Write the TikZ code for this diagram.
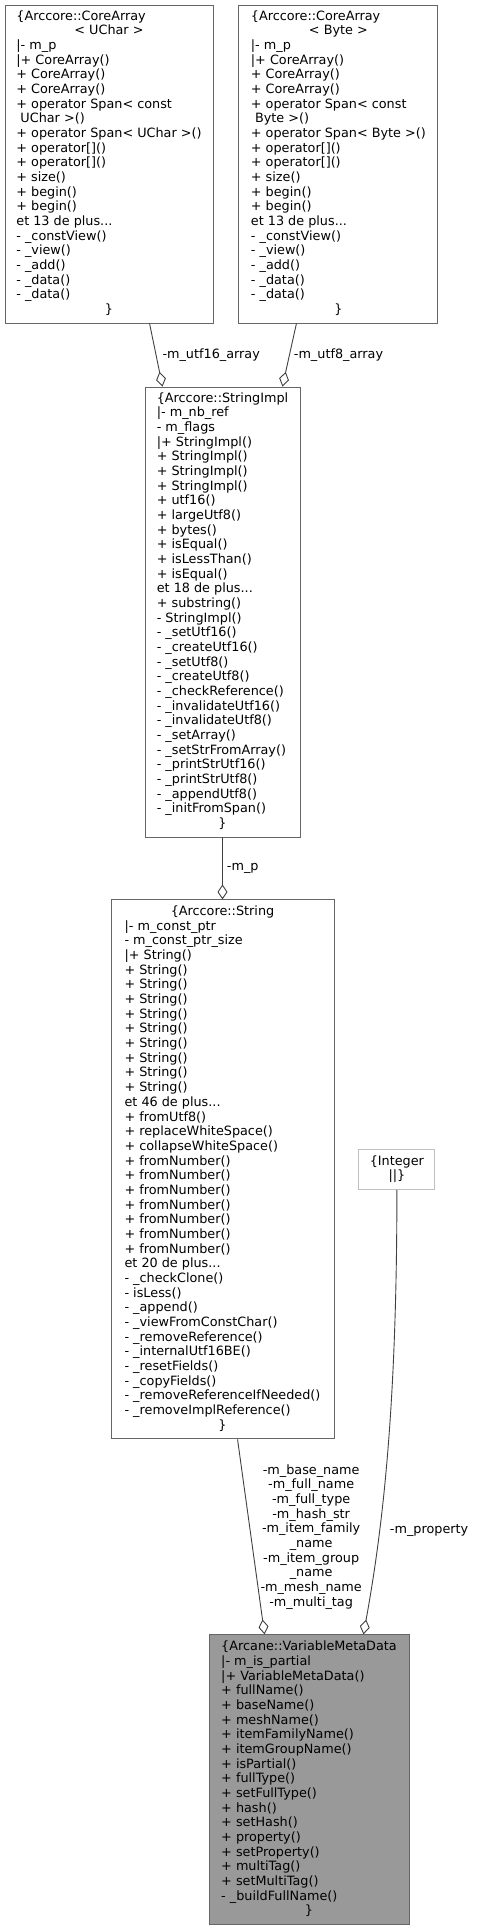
\documentclass[tikz,border=0pt]{standalone}
\usepackage{fontspec}
\setmainfont{DejaVu Sans}
\usepackage{tikz}
\usetikzlibrary{
    arrows.meta,
    positioning
}
\definecolor{Cedge}{RGB}{64, 64, 64}
\definecolor{Cbord}{RGB}{102, 102, 102}
\definecolor{Cmain}{RGB}{153, 153, 153}
\definecolor{Cfaint}{RGB}{191, 191, 191}
\tikzset{
    cls/.style={
        rectangle, draw=Cbord, line width=0.9pt, fill=white, text=black,
        inner sep=0pt, font=\fontsize{12.8}{14.67}\selectfont
    },
    aggr/.style={{Diamond[open, length=15pt, width=10pt]}-, line width=0.9pt, Cedge},
    elbl/.style={font=\fontsize{12.8}{14.67}\selectfont, text=black, inner sep=4pt},
}

\begin{document}
\begin{tikzpicture}[x=1pt, y=-1pt]

    \useasboundingbox (0,0) rectangle (477,1928);

    % ── class nodes ──────────────────────────────────────
    \node [cls, minimum width=208pt, minimum height=318pt] at (109,164)
        (ca16) {\begin{tabular}{@{}l@{}}
        \{Arccore::CoreArray\\ \multicolumn{1}{@{}c@{}}{< UChar >}\\
        |- m\_p\\ |+ CoreArray()\\ + CoreArray()\\ + CoreArray()\\
        + operator Span< const\\ \ UChar >()\\ + operator Span< UChar >()\\
        + operator[]()\\ + operator[]()\\ + size()\\ + begin()\\ + begin()\\
        et 13 de plus...\\ - \_constView()\\ - \_view()\\ - \_add()\\
        - \_data()\\ - \_data()\\ \multicolumn{1}{@{}c@{}}{\}}
        \end{tabular}};
    \node [cls, minimum width=199pt, minimum height=318pt, right=25pt of ca16]
        (ca8) {\begin{tabular}{@{}l@{}}
        \{Arccore::CoreArray\\ \multicolumn{1}{@{}c@{}}{< Byte >}\\
        |- m\_p\\ |+ CoreArray()\\ + CoreArray()\\ + CoreArray()\\
        + operator Span< const\\ \ Byte >()\\ + operator Span< Byte >()\\
        + operator[]()\\ + operator[]()\\ + size()\\ + begin()\\ + begin()\\
        et 13 de plus...\\ - \_constView()\\ - \_view()\\ - \_add()\\
        - \_data()\\ - \_data()\\ \multicolumn{1}{@{}c@{}}{\}}
        \end{tabular}};
    \node [cls, minimum width=155pt, minimum height=450pt] at (222.5,612)
        (impl) {\begin{tabular}{@{}l@{}}
        \{Arccore::StringImpl\\ |- m\_nb\_ref\\ - m\_flags\\
        |+ StringImpl()\\ + StringImpl()\\ + StringImpl()\\ + StringImpl()\\
        + utf16()\\ + largeUtf8()\\ + bytes()\\ + isEqual()\\ + isLessThan()\\
        + isEqual()\\ et 18 de plus...\\ + substring()\\ - StringImpl()\\
        - \_setUtf16()\\ - \_createUtf16()\\ - \_setUtf8()\\ - \_createUtf8()\\
        - \_checkReference()\\ - \_invalidateUtf16()\\ - \_invalidateUtf8()\\
        - \_setArray()\\ - \_setStrFromArray()\\ - \_printStrUtf16()\\
        - \_printStrUtf8()\\ - \_appendUtf8()\\ - \_initFromSpan()\\
        \multicolumn{1}{@{}c@{}}{\}}
        \end{tabular}};
    \node [cls, minimum width=223pt, minimum height=539pt, below=62pt of impl]
        (str) {\begin{tabular}{@{}l@{}}
        \multicolumn{1}{@{}c@{}}{\{Arccore::String}\\ |- m\_const\_ptr\\
        - m\_const\_ptr\_size\\ |+ String()\\ + String()\\ + String()\\
        + String()\\ + String()\\ + String()\\ + String()\\ + String()\\
        + String()\\ + String()\\ et 46 de plus...\\ + fromUtf8()\\
        + replaceWhiteSpace()\\ + collapseWhiteSpace()\\ + fromNumber()\\
        + fromNumber()\\ + fromNumber()\\ + fromNumber()\\ + fromNumber()\\
        + fromNumber()\\ + fromNumber()\\ et 20 de plus...\\ - \_checkClone()\\
        - isLess()\\ - \_append()\\ - \_viewFromConstChar()\\
        - \_removeReference()\\ - \_internalUtf16BE()\\ - \_resetFields()\\
        - \_copyFields()\\ - \_removeReferenceIfNeeded()\\
        - \_removeImplReference()\\ \multicolumn{1}{@{}c@{}}{\}}
        \end{tabular}};
    \node [cls, draw=Cfaint, minimum width=76pt, minimum height=40pt, right=24pt of str]
        (integer) {\begin{tabular}{@{}c@{}}\{Integer\\ ||\}\end{tabular}};
    \node [cls, fill=Cmain, minimum width=200pt, minimum height=290pt,
        below=195pt of str.south, xshift=86.5pt]
        (vmd) {\begin{tabular}{@{}l@{}}
        \{Arcane::VariableMetaData\\ |- m\_is\_partial\\
        |+ VariableMetaData()\\ + fullName()\\ + baseName()\\ + meshName()\\
        + itemFamilyName()\\ + itemGroupName()\\ + isPartial()\\ + fullType()\\
        + setFullType()\\ + hash()\\ + setHash()\\ + property()\\
        + setProperty()\\ + multiTag()\\ + setMultiTag()\\ - \_buildFullName()\\
        \multicolumn{1}{@{}c@{}}{\}}
        \end{tabular}};

    % ── aggregation edges ────────────────────────────────
    \draw [aggr] ([xshift=18pt]impl.north west) --
        node[elbl, right, xshift=2pt]{-m\_utf16\_array} ([xshift=145pt]ca16.south west);
    \draw [aggr] ([xshift=-18pt]impl.north east) --
        node[elbl, right]{-m\_utf8\_array} ([xshift=58pt]ca8.south west);
    \draw [aggr] (str.north) -- node[elbl, right]{-m\_p} (impl.south);
    \draw [aggr] ([xshift=56pt]vmd.north west) --
        node[elbl, right, align=center, xshift=5pt]{-m\_base\_name\\-m\_full\_name\\
        -m\_full\_type\\-m\_hash\_str\\-m\_item\_family\\\_name\\-m\_item\_group\\
        \_name\\-m\_mesh\_name\\-m\_multi\_tag} ([xshift=127pt]str.south west);
    \draw [aggr] ([xshift=-46pt]vmd.north east) .. controls +(20,-110) and +(0,213) ..
        node[elbl, right, pos=0.3, xshift=6pt]{-m\_property} (integer.south);

\end{tikzpicture}
\end{document}
